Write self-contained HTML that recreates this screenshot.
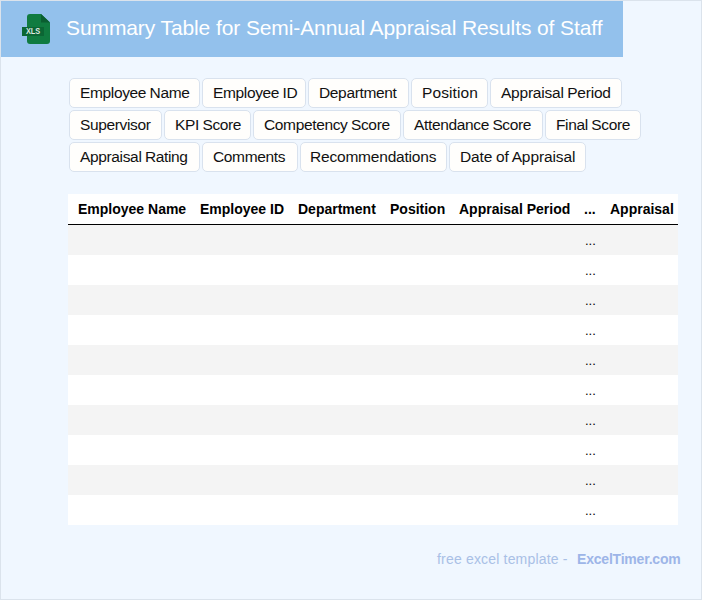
<!DOCTYPE html>
<html><head><meta charset="utf-8">
<style>
*{box-sizing:border-box;margin:0;padding:0}
html,body{width:702px;height:600px;overflow:hidden}
body{background:#f0f7ff;font-family:"Liberation Sans",sans-serif;position:relative}
.frame{position:absolute;left:0;top:0;width:702px;height:600px;border:1px solid #dbe3ec}
.hdr{position:absolute;left:1px;top:1px;width:622px;height:56px;background:#93c1ec}
.title{position:absolute;left:66px;top:16px;font-size:21px;line-height:24px;color:#fff;letter-spacing:-0.1px;white-space:nowrap}
.icon{position:absolute;left:22px;top:14px;width:29px;height:31px}
.tag{position:absolute;height:30px;background:#fffefc;border:1px solid #d9e2ee;border-radius:5px;font-size:15.5px;line-height:28px;color:#111;padding-left:10px;letter-spacing:-0.35px;word-spacing:-0.5px;white-space:nowrap}
.tbl{position:absolute;left:68px;top:194px;width:610px;height:331px;overflow:hidden;background:#fff}
.th{position:absolute;top:0;height:30px;line-height:30px;font-size:14px;font-weight:bold;color:#000;white-space:nowrap}
.hline{position:absolute;left:0;top:30px;width:610px;height:1px;background:#000}
.row{position:absolute;left:0;width:610px;height:30px}
.row.g{background:#f4f4f4}
.dots{position:absolute;left:517px;top:1px;font-size:13px;line-height:30px;color:#000}
.foot1{position:absolute;left:437px;top:550px;font-size:14px;line-height:18px;color:#a9c0e6;letter-spacing:0.18px;white-space:nowrap}
.foot2{position:absolute;left:577px;top:550px;font-size:14px;line-height:18px;color:#9db5e8;font-weight:bold;letter-spacing:-0.2px;white-space:nowrap}
</style></head><body>
<div class="frame"></div>
<div class="hdr"></div>
<svg class="icon" viewBox="0 0 29 31" width="29" height="31">
  <path d="M8,0 H19 L28,8.5 V27 Q28,30 25,30 H8 Q5,30 5,27 V3 Q5,0 8,0 Z" fill="#107b40"/>
  <path d="M19,0 V8.5 H28 Z" fill="#0a5e30"/>
  <rect x="0" y="13" width="22" height="9" fill="#0b6634"/>
  <text x="3.9" y="20.4" font-family="Liberation Sans" font-size="8.4" font-weight="bold" textLength="14.3" lengthAdjust="spacingAndGlyphs" fill="#dfe8e1">XLS</text>
</svg>
<div class="title">Summary Table for Semi-Annual Appraisal Results of Staff</div>

<div class="tag" style="left:69px;top:78px;width:131px">Employee Name</div>
<div class="tag" style="left:202px;top:78px;width:104px">Employee ID</div>
<div class="tag" style="left:308px;top:78px;width:101px">Department</div>
<div class="tag" style="left:411px;top:78px;width:77px;letter-spacing:0.1px">Position</div>
<div class="tag" style="left:490px;top:78px;width:132px;letter-spacing:-0.22px">Appraisal Period</div>

<div class="tag" style="left:69px;top:110px;width:93px">Supervisor</div>
<div class="tag" style="left:164px;top:110px;width:87px">KPI Score</div>
<div class="tag" style="left:253px;top:110px;width:148px">Competency Score</div>
<div class="tag" style="left:403px;top:110px;width:140px">Attendance Score</div>
<div class="tag" style="left:545px;top:110px;width:96px">Final Score</div>

<div class="tag" style="left:69px;top:142px;width:131px">Appraisal Rating</div>
<div class="tag" style="left:202px;top:142px;width:96px">Comments</div>
<div class="tag" style="left:300px;top:142px;width:147px;letter-spacing:-0.2px;padding-left:9px">Recommendations</div>
<div class="tag" style="left:449px;top:142px;width:137px;letter-spacing:-0.1px">Date of Appraisal</div>

<div class="tbl">
  <div class="th" style="left:10px">Employee Name</div>
  <div class="th" style="left:132px">Employee ID</div>
  <div class="th" style="left:230px">Department</div>
  <div class="th" style="left:322px">Position</div>
  <div class="th" style="left:391px">Appraisal Period</div>
  <div class="th" style="left:516px">...</div>
  <div class="th" style="left:542px">Appraisal Rating</div>
  <div class="hline"></div>
  <div class="row g" style="top:31px"><span class="dots">...</span></div>
  <div class="row" style="top:61px"><span class="dots">...</span></div>
  <div class="row g" style="top:91px"><span class="dots">...</span></div>
  <div class="row" style="top:121px"><span class="dots">...</span></div>
  <div class="row g" style="top:151px"><span class="dots">...</span></div>
  <div class="row" style="top:181px"><span class="dots">...</span></div>
  <div class="row g" style="top:211px"><span class="dots">...</span></div>
  <div class="row" style="top:241px"><span class="dots">...</span></div>
  <div class="row g" style="top:271px"><span class="dots">...</span></div>
  <div class="row" style="top:301px"><span class="dots">...</span></div>
</div>

<div class="foot1">free excel template -</div>
<div class="foot2">ExcelTimer.com</div>
</body></html>
